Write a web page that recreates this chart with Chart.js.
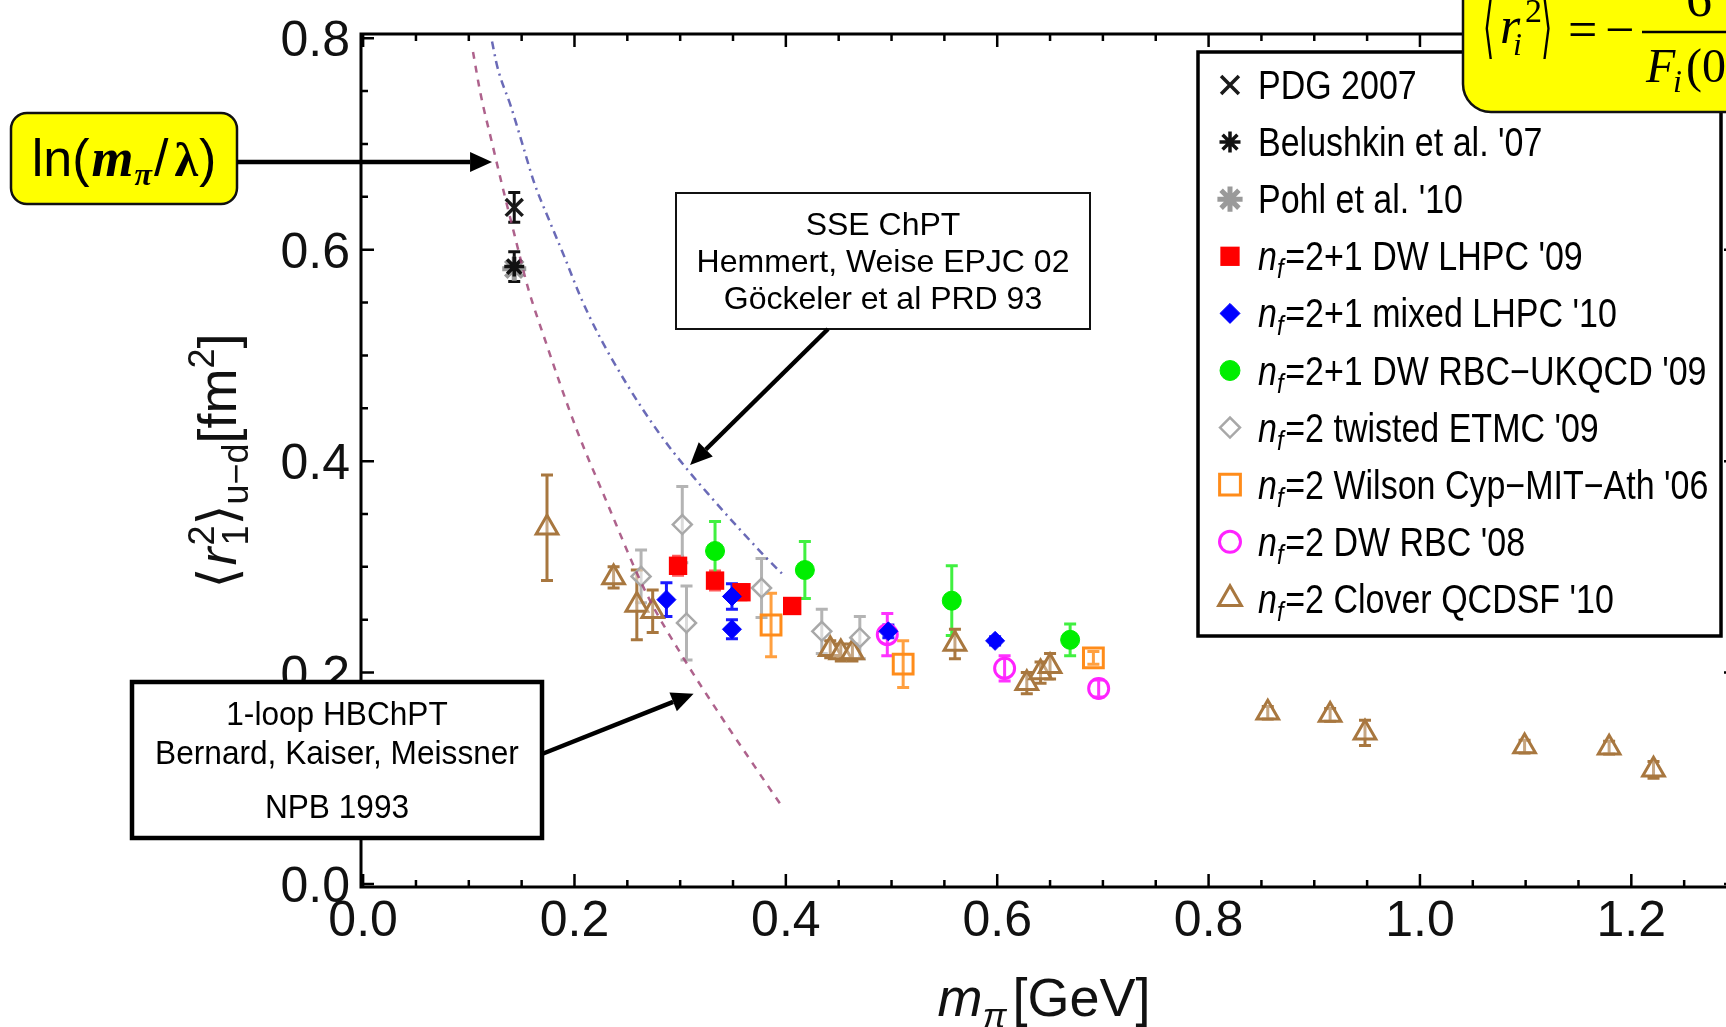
<!DOCTYPE html>
<html>
<head>
<meta charset="utf-8">
<script src="https://cdn.jsdelivr.net/npm/chart.js@4.4.0/dist/chart.umd.min.js"></script>
<style>
  html, body { margin: 0; padding: 0; background: #fff; overflow: hidden; }
  #wrap { width: 1760px; height: 1027px; }
</style>
</head>
<body>
<div id="wrap"><canvas id="radiusChart" width="1760" height="1027"></canvas></div>
<script>
// m_pi [GeV] vs <r1^2>_{u-d} [fm^2]
const pdgX = [0.143], pdgY = [0.640], pdgErr = [0.014];
const belushkinX = [0.143], belushkinY = [0.584], belushkinErr = [0.014];
const pohlX = [0.143], pohlY = [0.582], pohlErr = [0.004];

const lhpcDwX = [0.298, 0.333, 0.358, 0.406];
const lhpcDwY = [0.301, 0.287, 0.276, 0.263];
const lhpcDwErr = [0.009, 0.009, 0.007, 0.006];

const lhpcMixX = [0.287, 0.349, 0.349, 0.497, 0.598];
const lhpcMixY = [0.269, 0.272, 0.241, 0.239, 0.230];
const lhpcMixErr = [0.016, 0.012, 0.009, 0.006, 0.004];

const rbcUkqcdX = [0.333, 0.418, 0.557, 0.669];
const rbcUkqcdY = [0.315, 0.297, 0.268, 0.231];
const rbcUkqcdErr = [0.028, 0.027, 0.033, 0.015];

const etmcX = [0.263, 0.302, 0.306, 0.377, 0.434, 0.470];
const etmcY = [0.291, 0.340, 0.247, 0.280, 0.239, 0.233];
const etmcErr = [0.025, 0.036, 0.035, 0.028, 0.021, 0.020];

const mitX = [0.386, 0.511, 0.691];
const mitY = [0.245, 0.208, 0.214];
const mitErr = [0.030, 0.022, 0.006];

const rbcX = [0.496, 0.607, 0.696];
const rbcY = [0.236, 0.204, 0.185];
const rbcErr = [0.020, 0.012, 0.008];

const qcdsfX = [0.174, 0.237, 0.259, 0.274, 0.442, 0.452, 0.463, 0.560, 0.628, 0.641, 0.650, 0.856, 0.915, 0.948, 1.099, 1.179, 1.221];
const qcdsfY = [0.337, 0.290, 0.264, 0.258, 0.222, 0.219, 0.219, 0.227, 0.190, 0.200, 0.206, 0.162, 0.160, 0.143, 0.130, 0.129, 0.108];
const qcdsfErr = [0.050, 0.010, 0.033, 0.020, 0.008, 0.008, 0.008, 0.014, 0.010, 0.010, 0.012, 0.006, 0.006, 0.012, 0.006, 0.006, 0.008];

// ChPT curves
const hbchptX = [0.104, 0.111, 0.122, 0.133, 0.144, 0.156, 0.171, 0.202, 0.229, 0.268, 0.303, 0.339, 0.370, 0.398];
const hbchptY = [0.787, 0.748, 0.701, 0.655, 0.611, 0.564, 0.518, 0.430, 0.365, 0.275, 0.214, 0.158, 0.112, 0.071];
const sseX = [0.122, 0.127, 0.140, 0.151, 0.162, 0.176, 0.191, 0.205, 0.221, 0.250, 0.279, 0.306, 0.330, 0.355, 0.382, 0.398];
const sseY = [0.797, 0.773, 0.735, 0.699, 0.663, 0.628, 0.592, 0.557, 0.523, 0.472, 0.428, 0.393, 0.365, 0.337, 0.308, 0.292];

const xTickValues = [0, 0.2, 0.4, 0.6, 0.8, 1.0, 1.2];
const xTickLabels = ['0.0', '0.2', '0.4', '0.6', '0.8', '1.0', '1.2'];
const yTickValues = [0, 0.2, 0.4, 0.6, 0.8];
const yTickLabels = ['0.0', '0.2', '0.4', '0.6', '0.8'];

const seriesLabels = ['PDG 2007', "Belushkin et al. '07", "Pohl et al. '10",
  "nf=2+1 DW LHPC '09", "nf=2+1 mixed LHPC '10", "nf=2+1 DW RBC\u2212UKQCD '09",
  "nf=2 twisted ETMC '09", "nf=2 Wilson Cyp\u2212MIT\u2212Ath '06", "nf=2 DW RBC '08", "nf=2 Clover QCDSF '10"];

// arrow tips in data coordinates
const lnArrowTip = { x: 0.122, y: 0.683 };
const sseArrowTip = { x: 0.3094, y: 0.3964 };
const hbArrowTip = { x: 0.3127, y: 0.180 };

const SANS = '"Liberation Sans", Arial, "DejaVu Sans", sans-serif';
const SERIF = '"Liberation Serif", "Times New Roman", "DejaVu Serif", serif';

function pts(xs, ys) { return xs.map((x, i) => ({ x: x, y: ys[i] })); }

function series(label, xs, ys, errs, style) {
  return Object.assign({
    label: label,
    data: pts(xs, ys),
    errors: errs,
    showLine: false
  }, style);
}

const markerStyles = [
  { pointStyle: 'crossRot', pointRadius: 12, borderColor: '#1a1a1a', backgroundColor: 'rgba(0,0,0,0)', pointBorderWidth: 3.5, errorColor: '#111', order: 2 },
  { pointStyle: 'star', pointRadius: 10, borderColor: '#111', backgroundColor: 'rgba(0,0,0,0)', pointBorderWidth: 3.5, errorColor: '#111', order: 3 },
  { pointStyle: 'star', pointRadius: 12, borderColor: '#9a9a9a', backgroundColor: 'rgba(0,0,0,0)', pointBorderWidth: 5, errorColor: '#999', order: 4 },
  { pointStyle: 'rect', pointRadius: 13, borderColor: '#ff0000', backgroundColor: '#ff0000', pointBorderWidth: 0, errorColor: '#ff5a5a', order: 6 },
  { pointStyle: 'rectRot', pointRadius: 9.5, borderColor: '#0000ff', backgroundColor: '#0000ff', pointBorderWidth: 1, errorColor: '#1a1aff', order: 5 },
  { pointStyle: 'circle', pointRadius: 9.5, borderColor: '#00ee00', backgroundColor: '#00ee00', pointBorderWidth: 1, errorColor: '#40f040', order: 7 },
  { pointStyle: 'rectRot', pointRadius: 9.5, borderColor: '#a8a8a8', backgroundColor: 'rgba(255,255,255,0.5)', pointBorderWidth: 2.5, errorColor: '#b4b4b4', order: 8 },
  { pointStyle: 'rect', pointRadius: 14, borderColor: '#ff8c1a', backgroundColor: 'rgba(255,255,255,0)', pointBorderWidth: 3, errorColor: '#ffa040', order: 9 },
  { pointStyle: 'circle', pointRadius: 10, borderColor: '#ff22ff', backgroundColor: 'rgba(255,255,255,0)', pointBorderWidth: 3, errorColor: '#ff33ff', order: 10 },
  { pointStyle: 'triangle', pointRadius: 12.5, borderColor: '#a8773f', backgroundColor: 'rgba(255,255,255,0.35)', pointBorderWidth: 3, errorColor: '#a8773f', order: 11 }
];

const datasets = [
  series(seriesLabels[0], pdgX, pdgY, pdgErr, markerStyles[0]),
  series(seriesLabels[1], belushkinX, belushkinY, belushkinErr, markerStyles[1]),
  series(seriesLabels[2], pohlX, pohlY, pohlErr, markerStyles[2]),
  series(seriesLabels[3], lhpcDwX, lhpcDwY, lhpcDwErr, markerStyles[3]),
  series(seriesLabels[4], lhpcMixX, lhpcMixY, lhpcMixErr, markerStyles[4]),
  series(seriesLabels[5], rbcUkqcdX, rbcUkqcdY, rbcUkqcdErr, markerStyles[5]),
  series(seriesLabels[6], etmcX, etmcY, etmcErr, markerStyles[6]),
  series(seriesLabels[7], mitX, mitY, mitErr, markerStyles[7]),
  series(seriesLabels[8], rbcX, rbcY, rbcErr, markerStyles[8]),
  series(seriesLabels[9], qcdsfX, qcdsfY, qcdsfErr, markerStyles[9]),
  {
    label: 'HBChPT', data: pts(hbchptX, hbchptY), showLine: true, pointRadius: 0,
    borderColor: 'rgba(160,70,120,0.85)', borderWidth: 2.5, borderDash: [7, 7],
    cubicInterpolationMode: 'monotone', order: 1
  },
  {
    label: 'SSE', data: pts(sseX, sseY), showLine: true, pointRadius: 0,
    borderColor: 'rgba(80,80,170,0.85)', borderWidth: 2.5, borderDash: [8, 5, 2, 5],
    cubicInterpolationMode: 'monotone', order: 1
  }
];

// draws text pieces one after another
function drawRuns(ctx, runs, x, y, measureOnly) {
  let cx = x;
  runs.forEach(r => {
    ctx.font = r.font;
    if (!measureOnly) ctx.fillText(r.t, cx, y + (r.dy || 0));
    if (!r.hold) cx += ctx.measureText(r.t).width + (r.gap || 0);
  });
  return cx - x;
}

function arrow(ctx, x1, y1, x2, y2) {
  const ang = Math.atan2(y2 - y1, x2 - x1);
  const hl = 22, hw = 10;
  const bx = x2 - hl * Math.cos(ang), by = y2 - hl * Math.sin(ang);
  ctx.beginPath();
  ctx.moveTo(x1, y1);
  ctx.lineTo(bx, by);
  ctx.lineWidth = 4.5;
  ctx.strokeStyle = '#000';
  ctx.stroke();
  ctx.beginPath();
  ctx.moveTo(x2, y2);
  ctx.lineTo(bx + hw * Math.sin(ang), by - hw * Math.cos(ang));
  ctx.lineTo(bx - hw * Math.sin(ang), by + hw * Math.cos(ang));
  ctx.closePath();
  ctx.fillStyle = '#000';
  ctx.fill();
}

function roundBox(ctx, x, y, w, h, r, fill) {
  ctx.beginPath();
  ctx.roundRect(x, y, w, h, r);
  ctx.fillStyle = fill;
  ctx.fill();
  ctx.lineWidth = 2.5;
  ctx.strokeStyle = '#111';
  ctx.stroke();
}

const errorBars = {
  id: 'errorBars',
  beforeDatasetsDraw(chart) {
    const ctx = chart.ctx, ys = chart.scales.y;
    ctx.save();
    chart.data.datasets.forEach((ds, i) => {
      if (!ds.errors) return;
      const meta = chart.getDatasetMeta(i);
      ctx.strokeStyle = ds.errorColor;
      ctx.lineWidth = 3;
      meta.data.forEach((el, j) => {
        const v = ds.data[j].y, e = ds.errors[j];
        const top = ys.getPixelForValue(v + e), bot = ys.getPixelForValue(v - e);
        ctx.beginPath();
        ctx.moveTo(el.x, top); ctx.lineTo(el.x, bot);
        ctx.moveTo(el.x - 6, top); ctx.lineTo(el.x + 6, top);
        ctx.moveTo(el.x - 6, bot); ctx.lineTo(el.x + 6, bot);
        ctx.stroke();
      });
    });
    ctx.restore();
  }
};

const decor = {
  id: 'decor',
  afterDraw(chart) {
    const ctx = chart.ctx, xs = chart.scales.x, ys = chart.scales.y, a = chart.chartArea;
    ctx.save();

    // frame with inward ticks (Mathematica style)
    ctx.strokeStyle = '#000';
    ctx.lineWidth = 3;
    ctx.strokeRect(a.left, a.top, a.right - a.left, a.bottom - a.top);
    ctx.lineWidth = 2.5;
    ctx.beginPath();
    for (let k = 0; k <= 26; k++) {
      const px = xs.getPixelForValue(k * 0.05), len = k % 4 === 0 ? 13 : 7;
      ctx.moveTo(px, a.bottom); ctx.lineTo(px, a.bottom - len);
      ctx.moveTo(px, a.top); ctx.lineTo(px, a.top + len);
    }
    for (let k = 0; k <= 16; k++) {
      const py = ys.getPixelForValue(k * 0.05), len = k % 4 === 0 ? 13 : 7;
      ctx.moveTo(a.left, py); ctx.lineTo(a.left + len, py);
      ctx.moveTo(a.right, py); ctx.lineTo(a.right - len, py);
    }
    ctx.stroke();

    // tick labels
    ctx.fillStyle = '#111';
    ctx.font = '50px ' + SANS;
    ctx.textAlign = 'center';
    ctx.textBaseline = 'alphabetic';
    xTickValues.forEach((v, i) => ctx.fillText(xTickLabels[i], xs.getPixelForValue(v), 936));
    ctx.textAlign = 'right';
    yTickValues.forEach((v, i) => ctx.fillText(yTickLabels[i], 350, ys.getPixelForValue(v) + 18));
    ctx.textAlign = 'left';

    // x axis title
    const big = '54px ' + SANS, bigI = 'italic 54px ' + SANS, small = '36px ' + SANS, smallI = 'italic 36px ' + SANS;
    const xRuns = [{ t: 'm', font: bigI }, { t: '\u03c0', font: smallI, dy: 12, gap: 6 }, { t: '[GeV]', font: big }];
    const xw = drawRuns(ctx, xRuns, 0, 0, true);
    drawRuns(ctx, xRuns, 1044 - xw / 2, 1016);

    // y axis title (rotated)
    const yRuns = [
      { t: '\u27e8', font: big, gap: 2 }, { t: 'r', font: bigI, gap: 2 },
      { t: '1', font: small, dy: 12, hold: true }, { t: '2', font: small, dy: -22 },
      { t: '\u27e9', font: big }, { t: 'u\u2212d', font: small, dy: 12 },
      { t: '[fm', font: big }, { t: '2', font: small, dy: -22 }, { t: ']', font: big }
    ];
    const yw = drawRuns(ctx, yRuns, 0, 0, true);
    ctx.save();
    ctx.translate(236, 461);
    ctx.rotate(-Math.PI / 2);
    drawRuns(ctx, yRuns, -yw / 2, 0);
    ctx.restore();

    // legend
    ctx.fillStyle = '#fff';
    ctx.fillRect(1198, 52, 523, 584);
    ctx.lineWidth = 3.5;
    ctx.strokeStyle = '#000';
    ctx.strokeRect(1198, 52, 523, 584);
    chart.data.datasets.slice(0, 10).forEach((ds, i) => {
      const cy = 85 + 57.1 * i;
      ctx.save();
      ctx.fillStyle = ds.backgroundColor;
      ctx.strokeStyle = ds.borderColor;
      ctx.lineWidth = ds.pointBorderWidth;
      Chart.helpers.drawPoint(ctx, { pointStyle: ds.pointStyle, radius: ds.pointRadius * 1.05, borderWidth: ds.pointBorderWidth, rotation: 0 }, 1230, cy);
      ctx.restore();
      let runs;
      if (ds.label.startsWith('nf')) {
        runs = [{ t: 'n', font: 'italic 40px ' + SANS }, { t: 'f', font: 'italic 28px ' + SANS, dy: 8, gap: 2 }, { t: ds.label.slice(2), font: '40px ' + SANS }];
      } else {
        runs = [{ t: ds.label, font: '40px ' + SANS }];
      }
      ctx.save();
      ctx.fillStyle = '#000';
      ctx.translate(1258, cy + 14);
      ctx.scale(0.85, 1);
      drawRuns(ctx, runs, 0, 0);
      ctx.restore();
    });

    // formula box (top right, cut by the page edge)
    roundBox(ctx, 1463, -40, 320, 152, 28, '#ffff00');
    ctx.fillStyle = '#000';
    ctx.strokeStyle = '#000';
    ctx.save();
    ctx.translate(1483, 50);
    ctx.scale(0.8, 1.9);
    ctx.font = '36px ' + SERIF;
    ctx.fillText('\u27e8', 0, 0);
    ctx.restore();
    ctx.font = 'italic 52px ' + SERIF; ctx.fillText('r', 1500, 43);
    ctx.font = '34px ' + SERIF; ctx.fillText('2', 1525, 22);
    ctx.font = 'italic 32px ' + SERIF; ctx.fillText('i', 1513, 55);
    ctx.save();
    ctx.translate(1541, 50);
    ctx.scale(0.8, 1.9);
    ctx.font = '36px ' + SERIF;
    ctx.fillText('\u27e9', 0, 0);
    ctx.restore();
    ctx.font = '52px ' + SERIF;
    ctx.fillText('=', 1568, 47);
    ctx.fillText('\u2212', 1605, 47);
    ctx.lineWidth = 2.5;
    ctx.beginPath(); ctx.moveTo(1642, 32); ctx.lineTo(1760, 32); ctx.stroke();
    ctx.fillText('6', 1686, 16);
    ctx.font = 'italic 48px ' + SERIF; ctx.fillText('F', 1646, 82);
    ctx.font = 'italic 32px ' + SERIF; ctx.fillText('i', 1673, 92);
    ctx.font = '48px ' + SERIF; ctx.fillText('(0', 1686, 82);

    // ln(m_pi/lambda) box
    roundBox(ctx, 11, 113, 226, 91, 16, '#ffff00');
    ctx.fillStyle = '#000';
    const lnRuns = [
      { t: 'ln(', font: '52px ' + SANS, gap: 2 },
      { t: 'm', font: 'bold italic 54px ' + SERIF, gap: 1 },
      { t: '\u03c0', font: 'bold italic 32px ' + SERIF, dy: 9, gap: 2 },
      { t: '/', font: '52px ' + SANS, gap: 6 },
      { t: '\u03bb', font: 'bold 48px ' + SERIF, gap: 1 },
      { t: ')', font: '52px ' + SANS }
    ];
    const lw = drawRuns(ctx, lnRuns, 0, 0, true);
    drawRuns(ctx, lnRuns, 124 - lw / 2, 176);
    arrow(ctx, 237, 162, xs.getPixelForValue(lnArrowTip.x), ys.getPixelForValue(lnArrowTip.y));

    // SSE ChPT box
    ctx.fillStyle = '#fff';
    ctx.fillRect(676, 193, 414, 136);
    ctx.lineWidth = 2;
    ctx.strokeStyle = '#111';
    ctx.strokeRect(676, 193, 414, 136);
    ctx.fillStyle = '#000';
    ctx.font = '32px ' + SANS;
    ctx.textAlign = 'center';
    ctx.fillText('SSE ChPT', 883, 235);
    ctx.fillText('Hemmert, Weise EPJC 02', 883, 272);
    ctx.fillText('G\u00f6ckeler et al PRD 93', 883, 309);
    arrow(ctx, 828, 329, xs.getPixelForValue(sseArrowTip.x), ys.getPixelForValue(sseArrowTip.y));

    // 1-loop HBChPT box
    ctx.fillStyle = '#fff';
    ctx.fillRect(132, 682, 410, 156);
    ctx.strokeRect(132, 682, 410, 156);
    ctx.fillStyle = '#000';
    ctx.font = '34px ' + SANS;
    [['1-loop HBChPT', 725], ['Bernard, Kaiser, Meissner', 764], ['NPB 1993', 818]].forEach(l => {
      ctx.save();
      ctx.translate(337, l[1]);
      ctx.scale(0.93, 1);
      ctx.fillText(l[0], 0, 0);
      ctx.restore();
    });
    ctx.textAlign = 'left';
    arrow(ctx, 542, 754, xs.getPixelForValue(hbArrowTip.x), ys.getPixelForValue(hbArrowTip.y));

    ctx.restore();
  }
};

new Chart(document.getElementById('radiusChart').getContext('2d'), {
  type: 'scatter',
  data: { datasets: datasets },
  options: {
    responsive: false,
    animation: false,
    layout: { padding: { left: 361, right: 23, top: 34, bottom: 140 } },
    plugins: { legend: { display: false }, tooltip: { enabled: false } },
    scales: {
      x: { type: 'linear', min: -0.002, max: 1.3, display: false },
      y: { type: 'linear', min: -0.0028, max: 0.804, display: false }
    }
  },
  plugins: [errorBars, decor]
});
</script>
</body>
</html>
